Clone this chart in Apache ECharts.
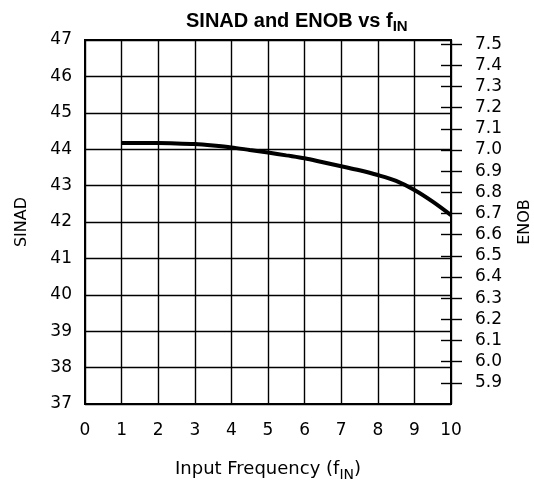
<!DOCTYPE html>
<html>
<head>
<meta charset="utf-8">
<script src="https://cdn.jsdelivr.net/npm/echarts@6/dist/echarts.min.js"></script>
<style>
  html, body { margin: 0; padding: 0; background: #fff; }
  #main { width: 534px; height: 485px; }
</style>
</head>
<body>
<div id="main"></div>
<script>
// input frequency (x) and SINAD
const freq = [1, 1.5, 2, 2.5, 3, 3.5, 4, 4.5, 5, 5.5, 6, 6.5, 7, 7.5, 8, 8.5, 9, 9.5, 10];
const sinad = [44.17, 44.17, 44.17, 44.16, 44.14, 44.1, 44.05, 43.98, 43.91, 43.83, 43.75, 43.64, 43.53, 43.42, 43.29, 43.13, 42.88, 42.56, 42.19];
// right axis ticks (ENOB)
const enobTicks = [5.9, 6.0, 6.1, 6.2, 6.3, 6.4, 6.5, 6.6, 6.7, 6.8, 6.9, 7.0, 7.1, 7.2, 7.3, 7.4, 7.5];

const font = "DejaVu Sans";
const chart = echarts.init(document.getElementById("main"));

chart.setOption({
  animation: false,
  title: {
    text: "{m|SINAD and ENOB vs f}{s|IN}",
    left: 181,
    top: 4,
    textStyle: {
      rich: {
        m: { fontFamily: "Liberation Sans", fontWeight: "bold", fontSize: 20, color: "#000" },
        s: { fontFamily: "Liberation Sans", fontWeight: "bold", fontSize: 15, color: "#000", padding: [10, 0, 0, 0] },
      },
    },
  },
  grid: {
    left: 85,
    right: 83,
    top: 40,
    bottom: 81,
    outerBoundsMode: "none",
    containLabel: false,
    show: true,
    borderColor: "#000",
    borderWidth: 2,
  },
  xAxis: {
    type: "value",
    min: 0,
    max: 10,
    interval: 1,
    name: "Input Frequency (f{s|IN})",
    nameLocation: "middle",
    nameGap: 53,
    nameTextStyle: {
      fontFamily: font,
      fontSize: 18,
      color: "#000",
      rich: { s: { fontFamily: font, fontSize: 14, color: "#000", padding: [11, 0, 0, 0] } },
    },
    axisLine: { show: true, lineStyle: { color: "#000", width: 2 } },
    axisTick: { show: false },
    axisLabel: { fontFamily: font, fontSize: 17, color: "#000", margin: 18 },
    splitLine: { show: true, lineStyle: { color: "#000", width: 1.4 } },
  },
  yAxis: [
    {
      type: "value",
      min: 37,
      max: 47,
      interval: 1,
      name: "SINAD",
      nameLocation: "middle",
      nameRotate: 90,
      nameGap: 55,
      nameTextStyle: { fontFamily: font, fontSize: 16, color: "#000" },
      axisLine: { show: true, lineStyle: { color: "#000", width: 2 } },
      axisTick: { show: false },
      axisLabel: { fontFamily: font, fontSize: 17, color: "#000", margin: 13 },
      splitLine: { show: true, lineStyle: { color: "#000", width: 1.4 } },
    },
    {
      type: "value",
      position: "right",
      min: 5.8,
      max: 7.52,
      name: "ENOB",
      nameLocation: "middle",
      nameRotate: 90,
      nameGap: 66,
      nameTextStyle: { fontFamily: font, fontSize: 16, color: "#000" },
      axisLine: { show: true, lineStyle: { color: "#000", width: 2 } },
      axisTick: { show: true, length: 11, customValues: enobTicks, lineStyle: { color: "#000", width: 1.4 } },
      axisLabel: {
        fontFamily: font, fontSize: 17, color: "#000", margin: 24,
        customValues: enobTicks,
        formatter: (v) => v.toFixed(1),
      },
      splitLine: { show: false },
    },
    {
      // inner half of the right-side crossing ticks
      type: "value",
      position: "right",
      min: 5.8,
      max: 7.52,
      axisLine: { show: false },
      axisTick: { show: true, inside: true, length: 10, customValues: enobTicks, lineStyle: { color: "#000", width: 1.4 } },
      axisLabel: { show: false },
      splitLine: { show: false },
    },
  ],
  series: [
    {
      type: "line",
      data: freq.map((f, i) => [f, sinad[i]]),
      smooth: 0.3,
      showSymbol: false,
      lineStyle: { color: "#000", width: 4 },
    },
  ],
});
</script>
</body>
</html>
